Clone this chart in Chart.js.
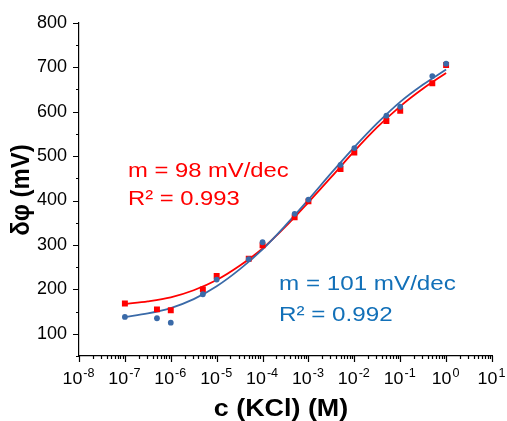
<!DOCTYPE html>
<html>
<head>
<meta charset="utf-8">
<script src="https://cdn.jsdelivr.net/npm/chart.js@4.4.0/dist/chart.umd.min.js"></script>
<style>
  html, body { margin: 0; padding: 0; background: #fff; }
</style>
</head>
<body>
<canvas id="chart" width="507" height="421"></canvas>
<script>
// KCl concentration (M) of each measured point
const concentrations = [1e-7, 5e-7, 1e-6, 5e-6, 1e-5, 5e-5, 1e-4, 5e-4, 1e-3, 5e-3, 1e-2, 5e-2, 1e-1, 5e-1, 1];
const redPoints  = [168, 155, 153, 200, 230, 269, 299, 362, 398, 471, 508, 579, 602, 664, 705];
const bluePoints = [138, 135, 125, 189, 222, 268, 306, 370, 402, 480, 518, 591, 611, 680, 708];

// fitted curves at half-decade steps of log10(c)
const fitLogC = [-7, -6.5, -6, -5.5, -5, -4.5, -4, -3.5, -3, -2.5, -2, -1.5, -1, -0.5, 0];
const redFit  = [167, 173, 182, 198, 221, 253, 292, 341, 396, 453, 511, 565, 612, 652, 687];
const blueFit = [138, 146, 158, 178, 207, 245, 290, 344, 402, 462, 520, 574, 622, 661, 695];

const xTickExps = [-8, -7, -6, -5, -4, -3, -2, -1, 0, 1];
const yTicks = [100, 200, 300, 400, 500, 600, 700, 800];

const redNote  = ['m = 98 mV/dec', 'R\u00b2 = 0.993'];
const blueNote = ['m = 101 mV/dec', 'R\u00b2 = 0.992'];

const RED = '#ff0000';
const BLUE = '#3a6aa8';
const BLUE_TEXT = '#1270b8';
const FONT = '"Liberation Sans", Arial, sans-serif';

const pts = (xs, ys) => xs.map((x, i) => ({ x: x, y: ys[i] }));

// draws text stretched sideways, the figure was scaled unevenly
function wideText(ctx, text, x, y, sx, align) {
  ctx.save();
  ctx.translate(x, y);
  ctx.scale(sx, 1);
  ctx.textAlign = align || 'left';
  ctx.fillText(text, 0, 0);
  ctx.restore();
}

const axisDecor = {
  id: 'axisDecor',
  afterDraw(chart) {
    const { ctx, scales: { x, y } } = chart;
    const x0 = x.left, y0 = y.bottom;
    ctx.save();
    ctx.strokeStyle = '#000';
    ctx.lineWidth = 1.2;
    ctx.beginPath();
    // y ticks, minor every 50
    for (let v = 50; v <= 800; v += 50) {
      const py = Math.round(y.getPixelForValue(v)) + 0.5;
      const len = v % 100 === 0 ? 6 : 3;
      ctx.moveTo(x0, py);
      ctx.lineTo(x0 - len, py);
    }
    // x ticks, decades + minor 2..9
    xTickExps.forEach(e => {
      const px = Math.round(x.getPixelForValue(Math.pow(10, e))) + 0.5;
      ctx.moveTo(px, y0);
      ctx.lineTo(px, y0 + 6);
      if (e < 1) {
        for (let m = 2; m <= 9; m++) {
          const mx = Math.round(x.getPixelForValue(m * Math.pow(10, e))) + 0.5;
          ctx.moveTo(mx, y0);
          ctx.lineTo(mx, y0 + 3);
        }
      }
    });
    ctx.stroke();

    // x tick labels 10^n
    ctx.fillStyle = '#000';
    ctx.textBaseline = 'alphabetic';
    xTickExps.forEach(e => {
      const px = x.getPixelForValue(Math.pow(10, e));
      ctx.font = '17px ' + FONT;
      const wb = ctx.measureText('10').width;
      ctx.font = '12px ' + FONT;
      const we = ctx.measureText(String(e)).width;
      const left = px - (wb + we) * 1.05 / 2 - 1;
      ctx.font = '17px ' + FONT;
      wideText(ctx, '10', left, 384, 1.05);
      ctx.font = '12px ' + FONT;
      wideText(ctx, String(e), left + wb * 1.05 + 1, 377, 1.05);
    });

    // axis titles
    ctx.font = 'bold 24px ' + FONT;
    wideText(ctx, 'c (KCl) (M)', 281, 416, 1.12, 'center');
    ctx.save();
    ctx.translate(29, 190);
    ctx.rotate(-Math.PI / 2);
    ctx.scale(1, 1.1);
    ctx.textAlign = 'center';
    ctx.fillText('\u03b4\u03c6 (mV)', 0, 0);
    ctx.restore();

    // fit annotations
    ctx.font = '20px ' + FONT;
    ctx.fillStyle = RED;
    wideText(ctx, redNote[0], 128, 177, 1.19);
    wideText(ctx, redNote[1], 128, 205, 1.19);
    ctx.fillStyle = BLUE_TEXT;
    wideText(ctx, blueNote[0], 279, 290, 1.21);
    wideText(ctx, blueNote[1], 279, 321, 1.21);
    ctx.restore();
  }
};

new Chart(document.getElementById('chart'), {
  type: 'scatter',
  data: {
    datasets: [
      {
        label: 'blue data',
        data: pts(concentrations, bluePoints),
        pointStyle: 'circle',
        pointRadius: 2.9,
        backgroundColor: BLUE,
        borderColor: BLUE,
        borderWidth: 0,
        order: 1
      },
      {
        label: 'red data',
        data: pts(concentrations, redPoints),
        pointStyle: 'rect',
        pointRadius: 4.2,
        backgroundColor: RED,
        borderColor: RED,
        borderWidth: 0,
        order: 2
      },
      {
        label: 'blue fit',
        data: pts(fitLogC.map(e => Math.pow(10, e)), blueFit),
        showLine: true,
        pointRadius: 0,
        borderColor: BLUE,
        borderWidth: 1.8,
        cubicInterpolationMode: 'monotone',
        order: 3
      },
      {
        label: 'red fit',
        data: pts(fitLogC.map(e => Math.pow(10, e)), redFit),
        showLine: true,
        pointRadius: 0,
        borderColor: RED,
        borderWidth: 1.8,
        cubicInterpolationMode: 'monotone',
        order: 4
      }
    ]
  },
  options: {
    responsive: false,
    animation: false,
    devicePixelRatio: 1,
    layout: { padding: { top: 22, right: 15, left: 0, bottom: 0 } },
    plugins: {
      legend: { display: false },
      tooltip: { enabled: false }
    },
    scales: {
      x: {
        type: 'logarithmic',
        min: 1e-8,
        max: 10,
        grid: { display: false },
        border: { display: true, color: '#000', width: 1.2 },
        ticks: { display: false },
        afterFit: s => { s.height = 65; }
      },
      y: {
        min: 50,
        max: 800,
        grid: { display: false, drawTicks: false },
        border: { display: true, color: '#000', width: 1.2 },
        afterBuildTicks: s => { s.ticks = yTicks.map(v => ({ value: v })); },
        ticks: {
          padding: 12,
          color: '#000',
          font: { family: FONT, size: 18 }
        },
        afterFit: s => { s.width = 79; }
      }
    }
  },
  plugins: [axisDecor]
});
</script>
</body>
</html>
